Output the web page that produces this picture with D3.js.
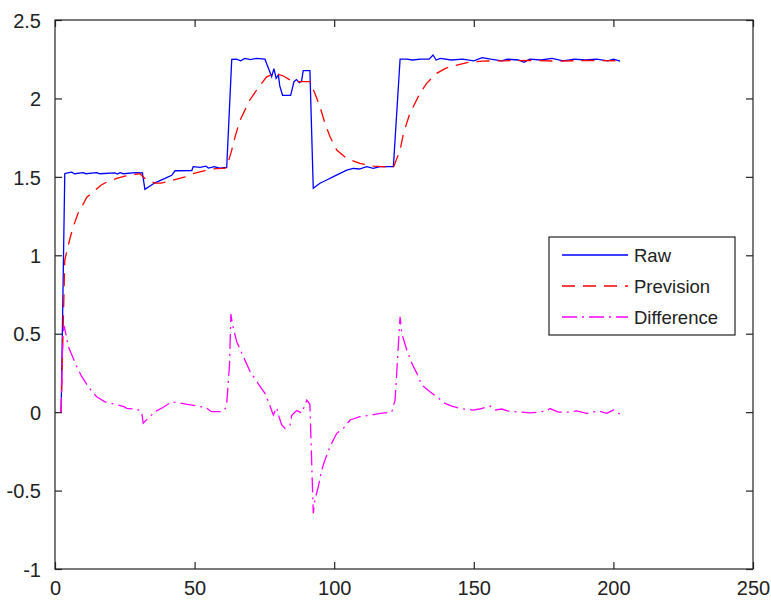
<!DOCTYPE html>
<html><head><meta charset="utf-8">
<script src="https://cdn.jsdelivr.net/npm/d3@7"></script>
<style>body{margin:0;background:#fff}svg{display:block}</style>
</head><body>
<svg id="c" width="771" height="601"></svg>
<script>
const xTicks = [0, 50, 100, 150, 200, 250];
const yTicks = [-1, -0.5, 0, 0.5, 1, 1.5, 2, 2.5];
const seriesNames = ["Raw", "Prevision", "Difference"];

const raw = [[2.2,0],[3.5,1.52],[4.5,1.525],[6,1.53],[7,1.52],[10.1,1.527],[11,1.52],[14.9,1.527],[16,1.52],[21.5,1.525],[22.3,1.518],[23.3,1.527],[24.5,1.52],[28.7,1.527],[31.3,1.525],[32.2,1.42],[35.8,1.462],[39.4,1.49],[41.8,1.51],[43,1.539],[49,1.54],[49.5,1.565],[52,1.56],[54,1.568],[55,1.556],[57,1.565],[59,1.555],[61.5,1.56],[63.3,2.249],[65,2.25],[66.5,2.24],[68,2.255],[70,2.248],[72,2.255],[75.2,2.25],[77.6,2.138],[78.4,2.19],[79.2,2.128],[80,2.15],[80.5,2.08],[81.5,2.02],[84.4,2.02],[85.6,2.107],[86.5,2.12],[87.5,2.1],[88.3,2.11],[88.9,2.177],[91.3,2.177],[92.5,1.427],[94.9,1.459],[97.3,1.48],[99.7,1.501],[102.1,1.522],[104.5,1.543],[106.8,1.554],[109,1.55],[111.6,1.565],[114,1.554],[116.4,1.565],[121.2,1.565],[123.6,2.251],[126,2.25],[128,2.245],[131,2.25],[134,2.25],[135.4,2.277],[136.5,2.245],[138,2.255],[142,2.245],[146,2.25],[150,2.24],[153,2.26],[156,2.25],[160,2.24],[162,2.25],[166,2.245],[168,2.23],[170,2.25],[174,2.245],[178,2.255],[182,2.24],[186,2.25],[190,2.245],[194,2.25],[198,2.24],[200,2.25],[202.4,2.238]];

const prevision = [[2.2,0],[3.5,0.97],[5.4,1.11],[6.5,1.18],[8.3,1.27],[9.6,1.31],[11.4,1.37],[13.7,1.405],[16.7,1.45],[19,1.47],[22.1,1.49],[25,1.505],[30.4,1.52],[32.2,1.49],[35.8,1.46],[38,1.46],[40.6,1.47],[46.6,1.5],[49,1.518],[53.7,1.54],[56.3,1.55],[61,1.556],[61.5,1.56],[63.3,1.67],[64.5,1.756],[66.3,1.862],[69.8,1.99],[72.2,2.053],[75.8,2.138],[78.8,2.16],[81.8,2.143],[84.2,2.117],[87.7,2.107],[91.3,2.107],[93.1,2.032],[94.9,1.947],[96.7,1.841],[98.5,1.756],[100.9,1.671],[104.5,1.618],[109.2,1.586],[114,1.569],[121.2,1.56],[123.6,1.671],[124.8,1.777],[127.1,1.905],[128.3,1.947],[130.7,2.032],[133.1,2.096],[136.7,2.16],[139.7,2.19],[142,2.205],[145,2.217],[148,2.23],[153,2.238],[160.5,2.24],[170,2.242],[180,2.238],[190,2.242],[202.4,2.24]];

const difference = [[2.2,0],[2.8,0.5],[3.3,0.55],[4.8,0.417],[6.3,0.353],[7.8,0.29],[9.6,0.226],[11.9,0.162],[14.9,0.098],[17.9,0.066],[21.5,0.05],[24.7,0.035],[25.7,0.024],[29.2,0.018],[31,0.005],[31.6,-0.07],[33.3,-0.04],[35.8,0.003],[38.8,0.031],[41.8,0.066],[45.4,0.056],[49,0.045],[52.5,0.034],[54,0.03],[56,0.003],[60,0.003],[61,0.024],[61.5,0.05],[62.5,0.3],[63,0.625],[63.6,0.555],[65.1,0.449],[67.5,0.353],[69.9,0.258],[73.5,0.162],[75.2,0.12],[77.1,0.034],[78.2,-0.018],[79.4,0.03],[80,-0.018],[81.2,-0.082],[82.4,-0.103],[84.2,-0.082],[84.8,-0.02],[86.6,0.01],[88.4,-0.005],[90.2,0.077],[91.3,0.05],[92.5,-0.645],[93.1,-0.56],[94.3,-0.475],[95.5,-0.369],[96.7,-0.305],[98.5,-0.22],[100.9,-0.135],[103.3,-0.103],[105.7,-0.05],[109.2,-0.029],[112.8,-0.02],[116.4,-0.008],[120.6,0],[121.8,0.077],[123.6,0.608],[124.2,0.502],[126,0.396],[127.8,0.311],[129.6,0.247],[131.4,0.173],[134.3,0.13],[136.7,0.098],[139.7,0.056],[142.1,0.039],[145,0.024],[149.8,0.013],[152,0.02],[155.8,0.039],[157.5,0.013],[160,0.02],[162.3,0.007],[165.4,0.002],[170.1,-0.005],[173,0],[176,0.007],[177.3,0.023],[180.3,0],[184,0],[186.8,0.008],[190.4,-0.008],[194.6,0.008],[197.6,-0.008],[200,0.013],[202.4,-0.013]];

const W = 771, H = 601;
const L = 55, T = 20, R = 753, B = 569;
const svg = d3.select("#c");
const x = d3.scaleLinear().domain([0, 250]).range([L, R]);
const y = d3.scaleLinear().domain([-1, 2.5]).range([B, T]);

const font = "'Liberation Sans', Arial, sans-serif";
// box
svg.append("rect").attr("x", L).attr("y", T).attr("width", R - L).attr("height", B - T)
  .attr("fill", "none").attr("stroke", "#222").attr("stroke-width", 1.2);

const fmt = d => String(d);
const axB = svg.append("g").attr("transform", `translate(0,${B})`)
  .call(d3.axisBottom(x).tickValues(xTicks).tickSizeInner(-7).tickSizeOuter(0).tickPadding(12).tickFormat(fmt));
const axT = svg.append("g").attr("transform", `translate(0,${T})`)
  .call(d3.axisTop(x).tickValues(xTicks).tickSizeInner(-7).tickSizeOuter(0).tickFormat(""));
const axL = svg.append("g").attr("transform", `translate(${L},0)`)
  .call(d3.axisLeft(y).tickValues(yTicks).tickSizeInner(-7).tickSizeOuter(0).tickPadding(14).tickFormat(fmt));
const axR = svg.append("g").attr("transform", `translate(${R},0)`)
  .call(d3.axisRight(y).tickValues(yTicks).tickSizeInner(-7).tickSizeOuter(0).tickFormat(""));
[axB, axT, axL, axR].forEach(a => {
  a.select(".domain").remove();
  a.selectAll("line").attr("stroke", "#222").attr("stroke-width", 1.2);
  a.selectAll("text").attr("font-family", font).attr("font-size", 20).attr("fill", "#222");
});
axL.selectAll("text").attr("dy", "0.36em");
axB.selectAll("text").attr("dy", "0.71em");

const line = d3.line().x(d => x(d[0])).y(d => y(d[1]));
const styles = [
  {data: raw, color: "#0000ff", dash: null},
  {data: prevision, color: "#ff0000", dash: "13,8"},
  {data: difference, color: "#ff00ff", dash: "15,5,2,5"}
];
styles.forEach(s => {
  svg.append("path").datum(s.data).attr("d", line)
    .attr("fill", "none").attr("stroke", s.color).attr("stroke-width", 1.3)
    .attr("stroke-dasharray", s.dash);
});

// legend
const lg = svg.append("g");
lg.append("rect").attr("x", 549).attr("y", 237).attr("width", 186).attr("height", 98)
  .attr("fill", "#fff").attr("stroke", "#222").attr("stroke-width", 1.2);
const rowsY = [255, 286, 317];
seriesNames.forEach((n, i) => {
  lg.append("line").attr("x1", 562).attr("x2", 628).attr("y1", rowsY[i]).attr("y2", rowsY[i])
    .attr("stroke", styles[i].color).attr("stroke-width", 1.3).attr("stroke-dasharray", styles[i].dash);
  lg.append("text").attr("x", 634).attr("y", rowsY[i]).attr("dy", "0.36em")
    .attr("font-family", font).attr("font-size", 18.5).attr("fill", "#222").text(n);
});
</script>
</body></html>
